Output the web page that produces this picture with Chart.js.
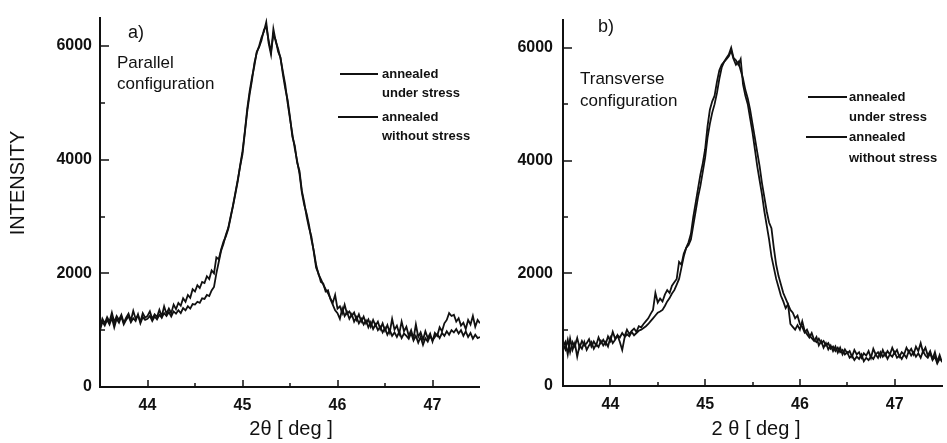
<!DOCTYPE html>
<html>
<head>
<meta charset="utf-8">
<script src="https://cdn.jsdelivr.net/npm/chart.js@4.4.1/dist/chart.umd.min.js"></script>
<style>
  html, body { margin:0; padding:0; background:#fff; }
  body { width:947px; height:443px; position:relative; overflow:hidden; font-family:"Liberation Sans", Arial, sans-serif; color:#111; }
  canvas { position:absolute; top:0; }
  .t { position:absolute; white-space:nowrap; line-height:1; }
  .ln { position:absolute; height:0; border-top:2px solid #111; }
</style>
</head>
<body>
<canvas id="c1" width="480" height="443" style="left:0;width:480px;height:443px"></canvas>
<canvas id="c2" width="467" height="443" style="left:480px;width:467px;height:443px"></canvas>

<div class="t" style="left:-37px;top:173px;width:108px;text-align:center;font-size:20px;transform:rotate(-90deg);">INTENSITY</div>

<div class="t" style="left:128px;top:23px;font-size:18px;">a)</div>
<div class="t" style="left:117px;top:54px;font-size:17px;">Parallel</div>
<div class="t" style="left:117px;top:75px;font-size:17px;">configuration</div>
<div class="ln" style="left:340px;top:73px;width:38px;"></div>
<div class="t" style="left:382px;top:67px;font-size:13px;font-weight:bold;">annealed</div>
<div class="t" style="left:382px;top:86px;font-size:13px;font-weight:bold;">under stress</div>
<div class="ln" style="left:338px;top:116px;width:40px;"></div>
<div class="t" style="left:382px;top:110px;font-size:13px;font-weight:bold;">annealed</div>
<div class="t" style="left:382px;top:129px;font-size:13px;font-weight:bold;">without stress</div>
<div class="t" style="left:191px;top:418px;width:200px;text-align:center;font-size:20px;">2θ [ deg ]</div>

<div class="t" style="left:598px;top:17px;font-size:18px;">b)</div>
<div class="t" style="left:580px;top:70px;font-size:17px;">Transverse</div>
<div class="t" style="left:580px;top:92px;font-size:17px;">configuration</div>
<div class="ln" style="left:808px;top:96px;width:39px;"></div>
<div class="t" style="left:849px;top:90px;font-size:13px;font-weight:bold;">annealed</div>
<div class="t" style="left:849px;top:110px;font-size:13px;font-weight:bold;">under stress</div>
<div class="ln" style="left:806px;top:136px;width:41px;"></div>
<div class="t" style="left:849px;top:130px;font-size:13px;font-weight:bold;">annealed</div>
<div class="t" style="left:849px;top:151px;font-size:13px;font-weight:bold;">without stress</div>
<div class="t" style="left:656px;top:418px;width:200px;text-align:center;font-size:20px;">2 θ [ deg ]</div>

<script>
// ---- data ----
const xStart = 43.5;
const xStep = 0.025;

// panel a) Parallel configuration
const parallelUnderStress = [
  1050,1200,1120,1230,1150,1310,1140,1250,1180,1270,
  1130,1220,1290,1170,1340,1200,1260,1150,1300,1220,
  1250,1330,1200,1280,1230,1360,1240,1420,1290,1380,
  1300,1450,1370,1480,1430,1560,1500,1620,1570,1720,
  1680,1790,1740,1850,1830,1950,1900,2050,2000,2280,
  2250,2420,2560,2650,2780,2980,3200,3420,3650,3880,
  4100,4480,4850,5150,5400,5700,5880,6000,6150,6250,
  6420,6050,5850,6300,6080,5950,5780,5550,5320,5000,
  4720,4450,4200,3980,3750,3420,3200,3050,2850,2600,
  2400,2150,1980,1900,1800,1720,1650,1560,1480,1620,
  1380,1420,1300,1450,1290,1330,1250,1310,1180,1280,
  1150,1240,1120,1190,1060,1180,1080,1150,1020,1120,
  990,1090,960,1200,1010,1080,940,1150,980,1060,
  900,1000,850,1100,880,960,830,980,860,940,
  800,950,900,1050,980,1120,1180,1300,1250,1270,
  1150,1210,1080,1130,1020,1180,1100,1250,1060,1180,
  1120
];
const parallelWithoutStress = [
  1000,1150,1080,1180,1100,1220,1050,1200,1130,1240,
  1100,1180,1250,1140,1210,1160,1280,1120,1230,1180,
  1200,1250,1160,1240,1190,1270,1220,1300,1250,1320,
  1240,1330,1290,1350,1300,1390,1350,1420,1380,1460,
  1450,1500,1480,1560,1550,1620,1600,1700,1760,2000,
  2200,2400,2520,2680,2800,3000,3180,3400,3620,3900,
  4150,4500,4900,5200,5450,5650,5900,5980,6100,6280,
  6350,6100,5900,6200,6100,5900,5800,5500,5250,5050,
  4750,4400,4250,3950,3800,3450,3250,3000,2800,2650,
  2380,2100,2000,1850,1820,1680,1700,1550,1450,1350,
  1300,1200,1380,1250,1320,1200,1280,1150,1230,1120,
  1200,1100,1170,1050,1140,1020,1100,1000,1060,960,
  1040,920,1000,900,960,880,970,860,940,900,
  850,950,820,900,780,880,740,860,800,900,
  820,880,930,860,950,900,980,920,1000,960,
  1020,940,1000,900,980,880,950,850,920,860,
  880
];

// panel b) Transverse configuration
const transverseUnderStress = [
  750,650,820,600,780,700,850,680,800,720,
  760,830,700,790,720,860,760,820,740,880,
  800,960,840,900,860,940,880,1000,920,980,
  1020,960,1060,1040,1100,1150,1200,1280,1350,1650,
  1480,1550,1500,1620,1700,1650,1780,1840,1900,2200,
  2150,2350,2450,2500,2600,2850,3100,3350,3550,3800,
  4050,4400,4650,4850,5000,5200,5450,5650,5750,5820,
  5880,6000,5820,5780,5700,5800,5350,5150,5000,4750,
  4500,4200,3900,3650,3400,3100,2850,2600,2300,2100,
  1900,1750,1600,1500,1380,1450,1350,1300,1200,1250,
  1100,1050,950,1000,900,850,800,870,720,800,
  680,760,650,720,620,700,590,680,560,650,
  580,620,520,640,560,600,500,580,540,620,
  500,660,560,600,520,640,540,620,560,680,
  580,640,520,600,560,680,600,660,560,700,
  620,760,600,680,540,620,480,600,430,550,
  420
];
const transverseWithoutStress = [
  700,780,560,840,640,760,520,720,660,780,
  640,720,780,660,740,690,800,720,780,700,
  860,760,820,900,780,640,860,920,880,960,
  900,940,980,1000,1030,1060,1100,1150,1200,1250,
  1300,1320,1350,1420,1500,1560,1640,1700,1800,1900,
  2100,2300,2450,2550,2700,3000,3250,3500,3750,3950,
  4200,4600,4900,5050,5150,5400,5600,5700,5750,5800,
  5850,5950,5800,5700,5750,5600,5450,5250,5100,4900,
  4650,4400,4150,3900,3600,3350,3100,2900,2800,2450,
  2150,1950,1800,1650,1550,1450,1100,1050,1000,1080,
  1000,1150,980,920,860,940,820,780,840,760,
  800,720,760,660,700,620,680,600,640,560,
  600,500,540,460,520,480,560,440,500,460,
  520,480,560,500,600,520,580,480,560,520,
  600,500,540,480,560,500,620,540,600,520,
  580,500,620,540,500,580,460,520,400,480,
  450
];

const xMin = 43.5, xMax = 47.5, yMin = 0, yMax = 6500;
const xMajorTicks = [44, 45, 46, 47];
const xMinorTicks = [44.5, 45.5, 46.5];
const yMajorTicks = [0, 2000, 4000, 6000];
const yMinorTicks = [1000, 3000, 5000];

// ---- chart ----
function toPoints(vals) {
  return vals.map((v, i) => ({ x: xStart + i * xStep, y: v }));
}

const innerTicks = {
  id: 'innerTicks',
  afterDraw(chart) {
    const { ctx, chartArea, scales } = chart;
    const x = scales.x, y = scales.y;
    ctx.save();
    ctx.strokeStyle = '#111';
    ctx.lineWidth = 1.5;
    ctx.beginPath();
    yMajorTicks.forEach(v => { const p = Math.round(y.getPixelForValue(v)); ctx.moveTo(chartArea.left, p); ctx.lineTo(chartArea.left + 9, p); });
    yMinorTicks.forEach(v => { const p = Math.round(y.getPixelForValue(v)); ctx.moveTo(chartArea.left, p); ctx.lineTo(chartArea.left + 5, p); });
    xMajorTicks.forEach(v => { const p = Math.round(x.getPixelForValue(v)); ctx.moveTo(p, chartArea.bottom); ctx.lineTo(p, chartArea.bottom - 7); });
    xMinorTicks.forEach(v => { const p = Math.round(x.getPixelForValue(v)); ctx.moveTo(p, chartArea.bottom); ctx.lineTo(p, chartArea.bottom - 4); });
    ctx.stroke();
    ctx.restore();
  }
};

function makeChart(id, seriesA, seriesB, dims) {
  const tickFont = { family: '"Liberation Sans", Arial, sans-serif', size: 16, weight: 'bold' };
  return new Chart(document.getElementById(id), {
    type: 'line',
    data: {
      datasets: [
        { label: 'annealed under stress', data: toPoints(seriesA), borderColor: '#111', borderWidth: 1.8, pointRadius: 0, tension: 0, fill: false },
        { label: 'annealed without stress', data: toPoints(seriesB), borderColor: '#111', borderWidth: 1.8, pointRadius: 0, tension: 0, fill: false }
      ]
    },
    options: {
      responsive: false,
      animation: false,
      devicePixelRatio: 1,
      layout: { padding: { left: 0, right: dims.right, top: dims.top, bottom: 0 } },
      plugins: { legend: { display: false }, tooltip: { enabled: false } },
      scales: {
        x: {
          type: 'linear', min: xMin, max: xMax,
          grid: { display: false, drawTicks: false },
          border: { display: true, color: '#111', width: 2 },
          ticks: { padding: 9, color: '#111', font: tickFont, maxRotation: 0, autoSkip: false, callback: v => String(v) },
          afterBuildTicks: s => { s.ticks = xMajorTicks.map(v => ({ value: v })); },
          afterFit: s => { s.height = dims.xh; }
        },
        y: {
          type: 'linear', min: yMin, max: yMax,
          grid: { display: false, drawTicks: false },
          border: { display: true, color: '#111', width: 2 },
          ticks: { padding: dims.ypad, color: '#111', font: tickFont, autoSkip: false, callback: v => String(v) },
          afterBuildTicks: s => { s.ticks = yMajorTicks.map(v => ({ value: v })); },
          afterFit: s => { s.width = dims.yw; }
        }
      }
    },
    plugins: [innerTicks]
  });
}

makeChart('c1', parallelUnderStress, parallelWithoutStress, { right: 0, top: 12, xh: 56, yw: 100, ypad: 8 });
makeChart('c2', transverseUnderStress, transverseWithoutStress, { right: 5, top: 7, xh: 57, yw: 83, ypad: 10 });
</script>
</body>
</html>
